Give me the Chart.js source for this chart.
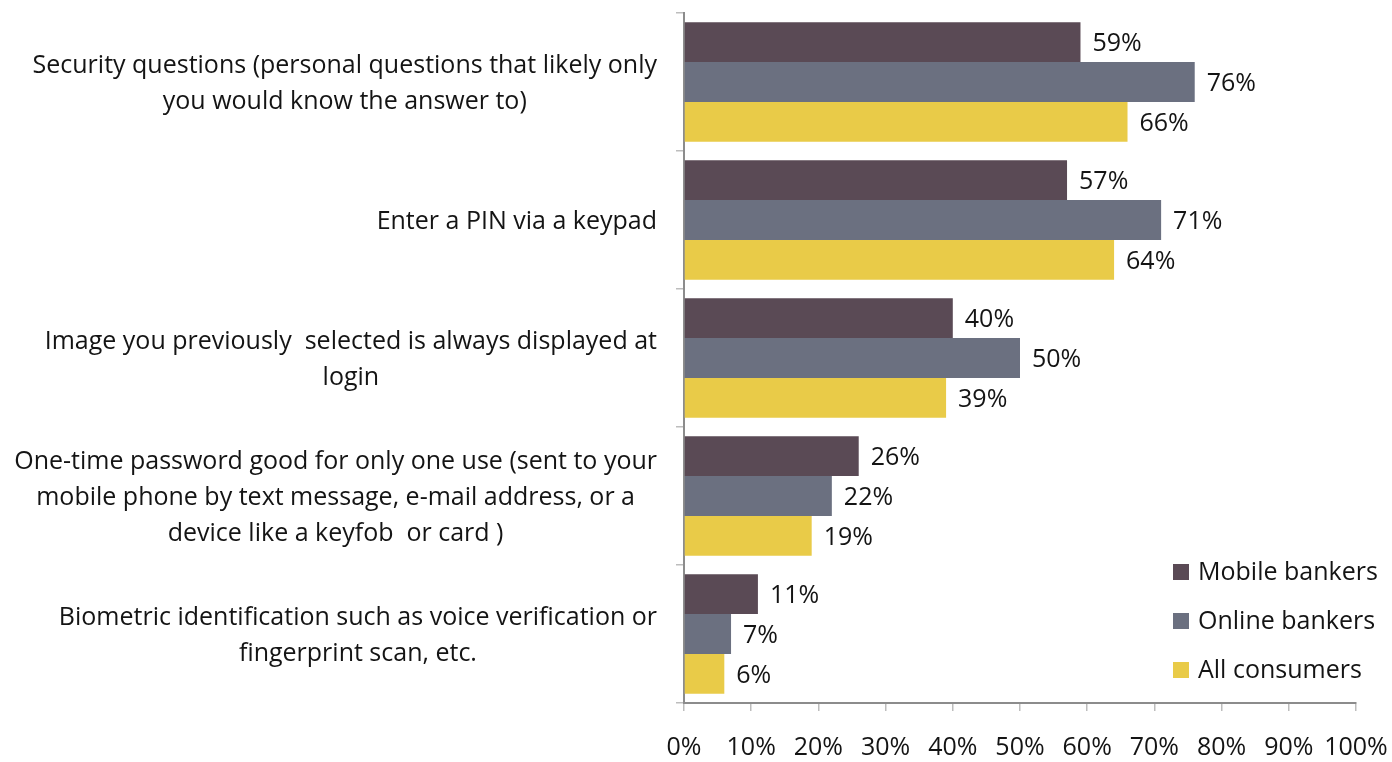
<!DOCTYPE html>
<html>
<head>
<meta charset="utf-8">
<script src="https://cdn.jsdelivr.net/npm/chart.js@4.4.1/dist/chart.umd.min.js"></script>
<style>
  html, body { margin: 0; padding: 0; background: #fff; }
  #wrap { width: 1392px; height: 762px; }
</style>
</head>
<body>
<div id="wrap"><canvas id="authChart"></canvas></div>
<script>
const categories = [
	['Security questions (personal questions that likely only', 'you would know the answer to)'],
	['Enter a PIN via a keypad'],
	['Image you previously  selected is always displayed at', 'login'],
	['One-time password good for only one use (sent to your', 'mobile phone by text message, e-mail address, or a', 'device like a keyfob  or card )'],
	['Biometric identification such as voice verification or', 'fingerprint scan, etc.']
]
const seriesNames = ['Mobile bankers', 'Online bankers', 'All consumers']
const mobileBankers = [59, 57, 40, 26, 11]
const onlineBankers = [76, 71, 50, 22, 7]
const allConsumers = [66, 64, 39, 19, 6]
const xTicks = [0, 10, 20, 30, 40, 50, 60, 70, 80, 90, 100]

const colors = ['#5a4a55', '#6b7080', '#e9cb48']
const FAMILY = '"Open Sans", Lato, sans-serif'
const FONT = '25px ' + FAMILY
const textColor = '#141414'
const axisColor = '#8c8c8c'

// category labels: right aligned block, lines centered inside it
const yLabelPlugin = {
	id: 'yLabels',
	afterDraw(chart) {
		const ctx = chart.ctx
		const scale = chart.scales.y
		const right = scale.right - 27
		const lh = 36
		ctx.save()
		ctx.font = FONT
		ctx.fillStyle = textColor
		ctx.textAlign = 'center'
		ctx.textBaseline = 'middle'
		categories.forEach((lines, i) => {
			const cy = scale.getPixelForTick(i) + 2
			const w = Math.max(...lines.map(l => ctx.measureText(l).width))
			const cx = right - w / 2
			const y0 = cy - (lines.length - 1) * lh / 2
			lines.forEach((l, k) => ctx.fillText(l, cx, y0 + k * lh))
		})
		ctx.restore()
	}
}

// value labels right of each bar
const valuePlugin = {
	id: 'values',
	afterDatasetsDraw(chart) {
		const ctx = chart.ctx
		ctx.save()
		ctx.font = FONT
		ctx.fillStyle = textColor
		ctx.textAlign = 'left'
		ctx.textBaseline = 'middle'
		chart.data.datasets.forEach((ds, i) => {
			chart.getDatasetMeta(i).data.forEach((bar, j) => {
				ctx.fillText(ds.data[j] + '%', bar.x + 12, bar.y + 2)
			})
		})
		ctx.restore()
	}
}

// legend inside plot, bottom right
const legendPlugin = {
	id: 'boxLegend',
	afterDraw(chart) {
		const ctx = chart.ctx
		const area = chart.chartArea
		const x = area.right - 183
		ctx.save()
		ctx.font = FONT
		ctx.textBaseline = 'middle'
		chart.data.datasets.forEach((ds, i) => {
			const y = area.bottom - 131 + i * 49
			ctx.fillStyle = ds.backgroundColor
			ctx.fillRect(x, y - 8, 16, 16)
			ctx.fillStyle = textColor
			ctx.fillText(ds.label, x + 25, y + 1)
		})
		ctx.restore()
	}
}

const chart = new Chart('authChart', {
	type: 'bar',
	data: {
		labels: categories.map(c => c.join(' ')),
		datasets: [
			{ label: seriesNames[0], data: mobileBankers, backgroundColor: colors[0] },
			{ label: seriesNames[1], data: onlineBankers, backgroundColor: colors[1] },
			{ label: seriesNames[2], data: allConsumers, backgroundColor: colors[2] }
		]
	},
	options: {
		indexAxis: 'y',
		responsive: true,
		maintainAspectRatio: false,
		animation: false,
		datasets: {
			bar: { categoryPercentage: 0.865, barPercentage: 1.0, borderWidth: 0 }
		},
		layout: { padding: { left: 0, top: 13, right: 0, bottom: 0 } },
		plugins: {
			legend: { display: false },
			tooltip: { enabled: false }
		},
		scales: {
			x: {
				min: 0,
				max: 100,
				afterBuildTicks: (scale) => { scale.ticks = xTicks.map(v => ({ value: v })) },
				afterFit: (scale) => {
					scale.height = 59
					scale.paddingRight = 36
				},
				border: { display: true, color: axisColor, width: 2 },
				grid: { display: true, drawOnChartArea: false, drawTicks: true, tickLength: 8, color: '#bdbdbd', lineWidth: 1.5 },
				ticks: {
					padding: 22,
					color: textColor,
					font: { family: FAMILY, size: 25 },
					maxRotation: 0,
					autoSkip: false,
					callback: (v) => v + '%'
				}
			},
			y: {
				afterFit: (scale) => { scale.width = 684 },
				border: { display: true, color: axisColor, width: 2 },
				grid: { display: true, offset: true, drawOnChartArea: false, drawTicks: true, tickLength: 8, color: '#bdbdbd', lineWidth: 1.5 },
				ticks: { display: false }
			}
		}
	},
	plugins: [yLabelPlugin, valuePlugin, legendPlugin]
})
</script>
</body>
</html>
